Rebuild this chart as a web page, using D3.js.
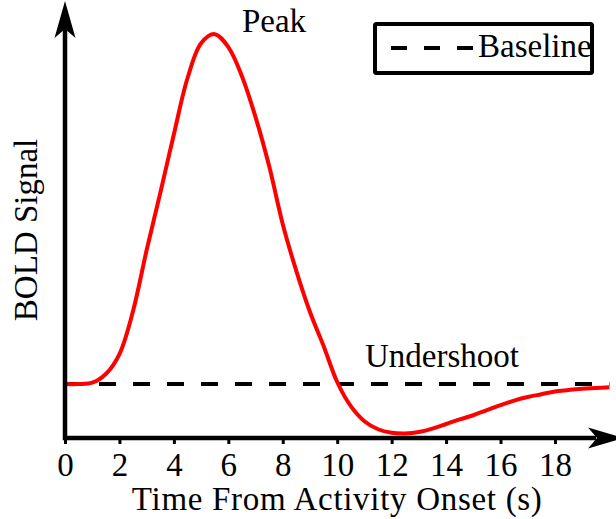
<!DOCTYPE html>
<html>
<head>
<meta charset="utf-8">
<script src="https://cdn.jsdelivr.net/npm/d3@7"></script>
</head>
<body style="margin:0;background:#fff">
<svg id="chart" width="616" height="519" style="display:block"></svg>
<script>
// Haemodynamic response: time after onset (s) and normalised BOLD signal
const times = [0, 0.5, 1, 1.5, 2, 2.5, 3, 3.5, 4, 4.5, 5, 5.5, 6, 6.5, 7, 7.5, 8, 8.5, 9, 9.5,
               10, 10.5, 11, 11.5, 12, 12.5, 13, 13.5, 14, 14.5, 15, 15.5, 16, 16.5, 17, 17.5,
               18, 18.5, 19, 19.5, 20];
const bold = [0, 0, 0.004, 0.029, 0.086, 0.209, 0.383, 0.546, 0.714, 0.874, 0.974, 1.0, 0.963,
              0.880, 0.763, 0.623, 0.457, 0.323, 0.206, 0.109, 0.006, -0.063, -0.106, -0.129,
              -0.139, -0.141, -0.137, -0.127, -0.114, -0.101, -0.089, -0.074, -0.060, -0.047,
              -0.037, -0.029, -0.021, -0.017, -0.013, -0.011, -0.009];
const baselineValue = 0;
const xTicks = [0, 2, 4, 6, 8, 10, 12, 14, 16, 18];
const xLabel = "Time From Activity Onset (s)";
const yLabel = "BOLD Signal";
const legendLabel = "Baseline";
const annotations = [
  { text: "Peak", t: 6.5, v: 1.006 },
  { text: "Undershoot", t: 11.02, v: 0.049 }
];

const FONT = 33;
const FAMILY = '"Liberation Serif"';

const svg = d3.select("#chart");
const x = d3.scaleLinear().domain([0, 20]).range([65, 609.4]);
const y = d3.scaleLinear().domain([-0.154, 1.089]).range([438, 3]);

function styleText(sel) {
  return sel.attr("font-family", "Liberation Serif")
    .style("font-family", FAMILY)
    .attr("font-size", FONT)
    .style("fill", "#000");
}

// dashed baseline
svg.append("line")
  .attr("x1", x(0)).attr("x2", x(20))
  .attr("y1", y(baselineValue)).attr("y2", y(baselineValue))
  .attr("stroke", "#000").attr("stroke-width", 4)
  .attr("stroke-dasharray", "17,17");

// response curve
const pts = times.map((t, i) => [t, bold[i]]);
svg.append("path")
  .datum(pts)
  .attr("fill", "none")
  .attr("stroke", "#ff0000")
  .attr("stroke-width", 4)
  .attr("stroke-linejoin", "round")
  .attr("d", d3.line().x(d => x(d[0])).y(d => y(d[1])).curve(d3.curveCatmullRom.alpha(0.5)));

// x axis ticks and labels
const xAxisY = y.range()[0];
const gx = svg.append("g")
  .attr("transform", `translate(0,${xAxisY})`)
  .call(d3.axisBottom(x).tickValues(xTicks).tickSizeInner(6).tickSizeOuter(0).tickPadding(9));
gx.attr("font-family", null).attr("font-size", null);
gx.select(".domain").remove();
gx.selectAll(".tick line").attr("stroke", "#000").attr("stroke-width", 3);
styleText(gx.selectAll(".tick text"));

// axis lines with stealth arrow heads
const ax0 = x(0);
svg.append("line")
  .attr("x1", ax0).attr("x2", 596).attr("y1", xAxisY).attr("y2", xAxisY)
  .attr("stroke", "#000").attr("stroke-width", 4.5);
svg.append("line")
  .attr("x1", ax0).attr("x2", ax0).attr("y1", xAxisY + 2.25).attr("y2", 20)
  .attr("stroke", "#000").attr("stroke-width", 4.5);

svg.append("path")
  .attr("d", `M${ax0},1 L${ax0 + 10.5},38 L${ax0},29 L${ax0 - 10.5},38 Z`)
  .attr("fill", "#000");
svg.append("path")
  .attr("d", `M624,${xAxisY} L588,${xAxisY - 10.5} L597,${xAxisY} L588,${xAxisY + 10.5} Z`)
  .attr("fill", "#000");

// axis titles
styleText(svg.append("text")
  .attr("x", (x(0) + x(20)) / 2)
  .attr("y", 510)
  .attr("text-anchor", "middle")
  .style("letter-spacing", "0.7px")
  .text(xLabel));

styleText(svg.append("text")
  .attr("transform", "translate(37,230) rotate(-90)")
  .attr("text-anchor", "middle")
  .text(yLabel));

// annotations
styleText(svg.selectAll("text.note")
  .data(annotations)
  .join("text")
  .attr("class", "note")
  .attr("x", d => x(d.t))
  .attr("y", d => y(d.v))
  .text(d => d.text));

// legend
const lg = svg.append("g");
lg.append("rect")
  .attr("x", 375).attr("y", 24).attr("width", 217).attr("height", 49)
  .attr("fill", "#fff").attr("stroke", "#000").attr("stroke-width", 4)
  .attr("rx", 1.5);
lg.append("line")
  .attr("x1", 391).attr("x2", 473).attr("y1", 48).attr("y2", 48)
  .attr("stroke", "#000").attr("stroke-width", 4)
  .attr("stroke-dasharray", "16,17");
styleText(lg.append("text")
  .attr("x", 478).attr("y", 57)
  .text(legendLabel));
</script>
</body>
</html>
